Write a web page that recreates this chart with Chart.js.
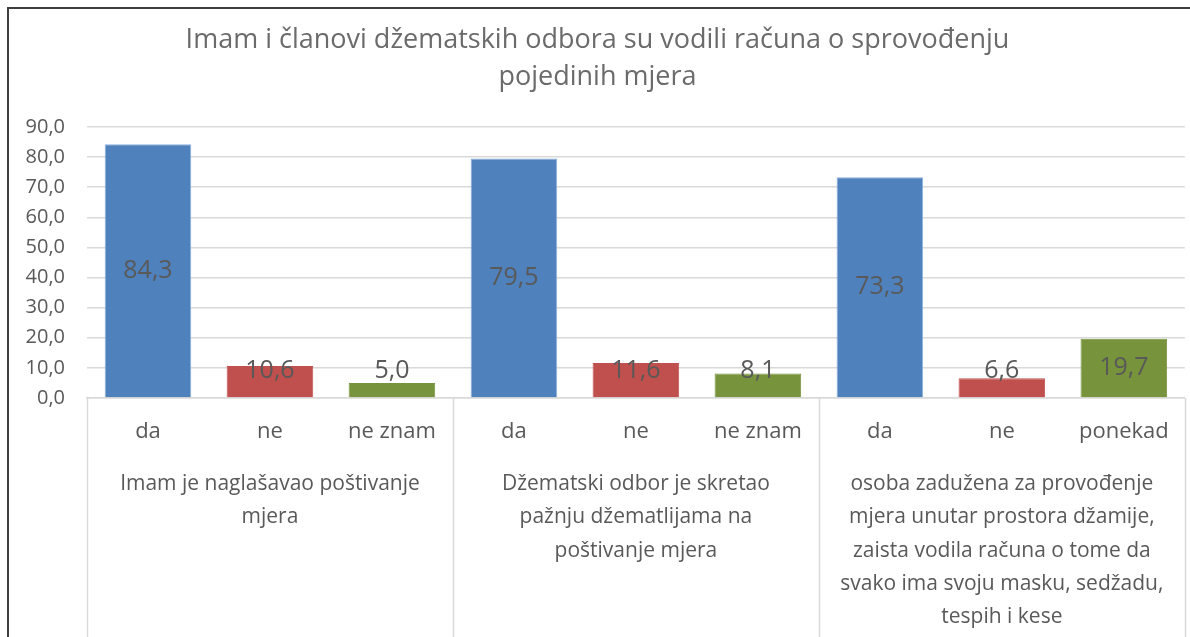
<!DOCTYPE html>
<html>
<head>
<meta charset="utf-8">
<script src="https://cdn.jsdelivr.net/npm/chart.js@4/dist/chart.umd.min.js"></script>
<style>
  html, body { margin: 0; padding: 0; background: #fff; }
  #wrap { width: 1190px; height: 637px; position: relative; }
</style>
</head>
<body>
<div id="wrap"><canvas id="chart" width="1190" height="637"></canvas></div>
<script>
const titleLines = ["Imam i članovi džematskih odbora su vodili računa o sprovođenju", "pojedinih mjera"];
const subLabels = ["da", "ne", "ne znam", "da", "ne", "ne znam", "da", "ne", "ponekad"];
const values = [84.3, 10.6, 5.0, 79.5, 11.6, 8.1, 73.3, 6.6, 19.7];
const groupSizes = [3, 3, 3];
const groupLabels = [
  ["Imam je naglašavao poštivanje", "mjera"],
  ["Džematski odbor je skretao", "pažnju džematlijama na", "poštivanje mjera"],
  ["osoba zadužena za provođenje", "mjera unutar prostora džamije,", "zaista vodila računa o tome da", "svako ima svoju masku, sedžadu,", "tespih i kese"]
];
const yMin = 0, yMax = 90, yStep = 10;

const FONT = "'Open Sans', sans-serif";
const TEXT = "#595959";
const barColors = ["#4F81BD", "#C0504D", "#77933C"];
const barEdges = ["#8DB0DB", "#C0504D", "#77933C"];

function fmt(v) {
  return v.toFixed(1).replace(".", ",");
}

const extras = {
  id: "extras",
  afterDatasetsDraw(chart) {
    const ctx = chart.ctx;
    const y = chart.scales.y;
    const meta = chart.getDatasetMeta(0);
    ctx.save();
    ctx.font = "25px " + FONT;
    ctx.fillStyle = TEXT;
    ctx.textAlign = "center";
    ctx.textBaseline = "middle";
    meta.data.forEach((bar, i) => {
      let cy = (bar.y + bar.base) / 2;
      cy = Math.min(cy, y.bottom - 27);
      ctx.fillText(fmt(values[i]), bar.x, cy);
    });
    ctx.restore();
  },
  afterDraw(chart) {
    const ctx = chart.ctx;
    const x = chart.scales.x;
    const y = chart.scales.y;
    const catW = x.width / subLabels.length;
    ctx.save();
    // group separators
    ctx.strokeStyle = "#D9D9D9";
    ctx.lineWidth = 1.5;
    let idx = 0;
    const bounds = [0];
    groupSizes.forEach(n => { idx += n; bounds.push(idx); });
    bounds.forEach(b => {
      const px = Math.round(x.left + b * catW) + 0.5;
      ctx.beginPath();
      ctx.moveTo(px, y.bottom);
      ctx.lineTo(px, chart.height);
      ctx.stroke();
    });
    // group labels
    ctx.font = "21px " + FONT;
    ctx.fillStyle = TEXT;
    ctx.textAlign = "center";
    ctx.textBaseline = "middle";
    groupLabels.forEach((lines, g) => {
      const cx = x.left + (bounds[g] + bounds[g + 1]) / 2 * catW;
      lines.forEach((ln, k) => {
        ctx.fillText(ln, cx, y.bottom + 86 + k * 33.3);
      });
    });
    // outer frame
    ctx.strokeStyle = "#3F3F3F";
    ctx.lineWidth = 2;
    ctx.beginPath();
    ctx.moveTo(8, chart.height);
    ctx.lineTo(8, 8);
    ctx.lineTo(chart.width, 8);
    ctx.stroke();
    ctx.restore();
  }
};

new Chart(document.getElementById("chart"), {
  type: "bar",
  data: {
    labels: subLabels,
    datasets: [{
      data: values,
      backgroundColor: values.map((v, i) => barColors[i % 3]),
      borderColor: values.map((v, i) => barEdges[i % 3]),
      borderWidth: 1,
      borderSkipped: "bottom",
      barPercentage: 0.71,
      categoryPercentage: 1
    }]
  },
  options: {
    responsive: false,
    animation: false,
    devicePixelRatio: 1,
    layout: { padding: { left: 10, right: 5, top: 0, bottom: 0 } },
    plugins: {
      legend: { display: false },
      tooltip: { enabled: false },
      title: {
        display: true,
        text: titleLines,
        color: "#6B6B6B",
        font: { family: FONT, size: 27, weight: "normal", lineHeight: 1.37 },
        padding: { top: 22, bottom: 31 }
      }
    },
    scales: {
      x: {
        grid: { display: false, drawTicks: false },
        border: { display: true, color: "#D9D9D9", width: 1.5 },
        ticks: {
          color: TEXT,
          font: { family: FONT, size: 22 },
          padding: 21,
          maxRotation: 0,
          autoSkip: false
        },
        afterFit(s) { s.height = 239; }
      },
      y: {
        min: yMin,
        max: yMax,
        grid: { color: "#D9D9D9", lineWidth: 1.5, drawTicks: false },
        border: { display: false },
        ticks: {
          stepSize: yStep,
          color: TEXT,
          font: { family: FONT, size: 20 },
          padding: 22,
          callback: v => fmt(v)
        },
        afterFit(s) { s.width = 77; }
      }
    }
  },
  plugins: [extras]
});
</script>
</body>
</html>
